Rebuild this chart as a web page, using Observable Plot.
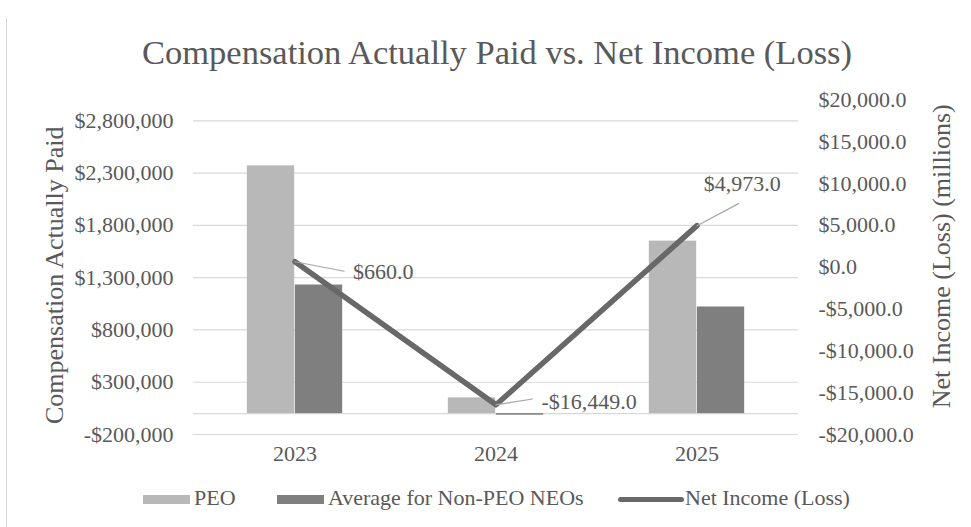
<!DOCTYPE html>
<html>
<head>
<meta charset="utf-8">
<script src="https://cdn.jsdelivr.net/npm/d3@7"></script>
<script src="https://cdn.jsdelivr.net/npm/@observablehq/plot@0.6"></script>
<style>
  html, body { margin: 0; padding: 0; background: #fff; }
  #wrap { position: relative; width: 971px; height: 527px; overflow: hidden; background: #fff;
          font-family: "Liberation Serif", "Times New Roman", serif; color: #595959; }
  #frameLine { position: absolute; left: 6px; top: 18px; width: 1px; height: 509px; background: #d9d9d9; z-index: 5; }
  #title { position: absolute; left: 0; width: 971px; top: 35px; text-align: center; font-size: 34.5px;
           line-height: 1; white-space: nowrap; padding-left: 23px; box-sizing: border-box; }
  #chart { position: absolute; left: 0; top: 80px; }
  .lg { position: absolute; font-size: 22px; line-height: 1; white-space: nowrap; top: 487px; }
  .sw { position: absolute; }
</style>
</head>
<body>
<div id="wrap">
  <div id="title">Compensation Actually Paid vs. Net Income (Loss)</div>
  <div id="chart"></div>
  <div class="sw" id="sw1" style="left:143px;top:495px;width:47px;height:9px;"></div>
  <div class="lg" id="lg1" style="left:194px;">PEO</div>
  <div class="sw" id="sw2" style="left:277px;top:495px;width:47px;height:9px;"></div>
  <div class="lg" id="lg2" style="left:328px;">Average for Non-PEO NEOs</div>
  <div class="sw" id="sw3" style="left:618px;top:497px;width:66px;height:5px;border-radius:2.5px;"></div>
  <div class="lg" id="lg3" style="left:685px;">Net Income (Loss)</div>
  <div id="frameLine"></div>
</div>
<script>
// ---- data ----
const years = ["2023", "2024", "2025"];
const peoCAP = [2370000, 150000, 1650000];
const neoCAP = [1230000, -15000, 1020000];
const netIncome = [660, -16449, 4973];
const leftTicks = [-200000, 300000, 800000, 1300000, 1800000, 2300000, 2800000];
const rightTicks = [-20000, -15000, -10000, -5000, 0, 5000, 10000, 15000, 20000];
const seriesNames = ["PEO", "Average for Non-PEO NEOs", "Net Income (Loss)"];
const colors = ["#b8b8b8", "#7f7f7f", "#686868"];

// ---- legend colours ----
document.getElementById("sw1").style.background = colors[0];
document.getElementById("sw2").style.background = colors[1];
document.getElementById("sw3").style.background = colors[2];
document.getElementById("lg1").textContent = seriesNames[0];
document.getElementById("lg2").textContent = seriesNames[1];
document.getElementById("lg3").textContent = seriesNames[2];

// secondary axis mapping (right axis -20,000..20,000 onto left -200,000..3,000,000)
const toLeft = r => 1400000 + 80 * r;
const fromLeft = v => (v - 1400000) / 80;
const fmtLeft = v => (v < 0 ? "-$" : "$") + d3.format(",")(Math.abs(v));
const fmtRight = r => (r < 0 ? "-$" : "$") + d3.format(",.1f")(Math.abs(r));

const peoRows = years.map((y, i) => ({year: y, value: peoCAP[i]}));
const neoRows = years.map((y, i) => ({year: y, value: neoCAP[i]}));
const niRows = years.map((y, i) => ({year: y, value: netIncome[i]}));

const W = 971, H = 400, ML = 193, MR = 173;
const band = (W - ML - MR) / years.length;
const barW = 48;

const leader = {draw(context, l) { context.moveTo(0, 0); context.lineTo(0, -l); }};
const labelFont = {fontSize: 22, fill: "#595959", textAnchor: "start"};

const chart = Plot.plot({
  width: W, height: H,
  marginLeft: ML, marginRight: MR, marginTop: 19.5, marginBottom: 46,
  style: {fontFamily: "'Liberation Serif', 'Times New Roman', serif", fontSize: "22px", color: "#595959", background: "white", overflow: "visible"},
  x: {domain: years, padding: 0},
  y: {domain: [-200000, 3000000]},
  marks: [
    Plot.ruleY(leftTicks, {stroke: "#d9d9d9", strokeWidth: 1.2}),
    Plot.ruleY([0], {stroke: "#d9d9d9", strokeWidth: 1.2}),
    Plot.barY(peoRows, {x: "year", y: "value", fill: colors[0], insetLeft: band / 2 - barW, insetRight: band / 2}),
    Plot.barY(neoRows, {x: "year", y: "value", fill: colors[1], insetLeft: band / 2, insetRight: band / 2 - barW}),
    Plot.line(niRows, {x: "year", y: d => toLeft(d.value), stroke: colors[2], strokeWidth: 5.5, strokeLinecap: "round", strokeLinejoin: "round"}),
    Plot.vector([niRows[0]], {x: "year", y: d => toLeft(d.value), length: 50, rotate: 101, anchor: "start", shape: leader, stroke: "#a6a6a6", strokeWidth: 1.2}),
    Plot.vector([niRows[1]], {x: "year", y: d => toLeft(d.value), length: 37, rotate: 81, anchor: "start", shape: leader, stroke: "#a6a6a6", strokeWidth: 1.2}),
    Plot.vector([niRows[2]], {x: "year", y: d => toLeft(d.value), length: 47, rotate: 62, anchor: "start", shape: leader, stroke: "#a6a6a6", strokeWidth: 1.2}),
    Plot.text([niRows[0]], {x: "year", y: d => toLeft(d.value), text: d => fmtRight(d.value), dx: 58, dy: 10.5, ...labelFont}),
    Plot.text([niRows[1]], {x: "year", y: d => toLeft(d.value), text: d => fmtRight(d.value), dx: 45.5, dy: -2.6, ...labelFont}),
    Plot.text([niRows[2]], {x: "year", y: d => toLeft(d.value), text: d => fmtRight(d.value), dx: 6.8, dy: -42, ...labelFont}),
    Plot.axisY({ticks: leftTicks, anchor: "left", tickSize: 0, tickPadding: 20, tickFormat: fmtLeft, label: null, fontSize: 22}),
    Plot.axisY({ticks: rightTicks.map(toLeft), anchor: "right", tickSize: 0, tickPadding: 20, tickFormat: v => fmtRight(fromLeft(v)), label: null, fontSize: 22}),
    Plot.axisX({tickSize: 0, tickPadding: 11, label: null, fontSize: 22}),
    Plot.text(["Compensation Actually Paid"], {frameAnchor: "left", text: d => d, rotate: -90, textAnchor: "middle", lineAnchor: "middle", dx: -139, dy: 8, fontSize: 26, fill: "#595959"}),
    Plot.text(["Net Income (Loss) (millions)"], {frameAnchor: "right", text: d => d, rotate: -90, textAnchor: "middle", lineAnchor: "middle", dx: 143, dy: -11, fontSize: 26, fill: "#595959"})
  ]
});
document.getElementById("chart").appendChild(chart);
</script>
</body>
</html>
